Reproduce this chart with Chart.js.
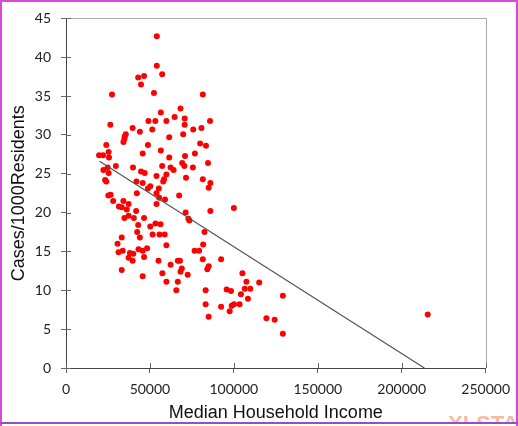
<!DOCTYPE html>
<html>
<head>
<meta charset="utf-8">
<script src="https://cdn.jsdelivr.net/npm/chart.js@4.4.1/dist/chart.umd.min.js"></script>
<style>
  html, body { margin: 0; padding: 0; background: #fff; }
  #wrap { position: relative; width: 518px; height: 426px; overflow: hidden; background: #fff; }
  #myScatterChart { position: absolute; left: 0; top: 0; }
  .edge { position: absolute; background: #d94ad9; }
  #mark { position: absolute; left: 448px; top: 413px; height: 10px; overflow: hidden;
          font: bold 22px "Liberation Sans", Arial, sans-serif; line-height: 22px; color: #f8b9a2; white-space: nowrap; }
</style>
</head>
<body>
<div id="wrap">
  <canvas id="myScatterChart" width="518" height="426"></canvas>
  <div id="mark">XLSTAT</div>
  <div class="edge" style="left:0;top:0;width:518px;height:2px;"></div>
  <div class="edge" style="left:0;top:0;width:2px;height:426px;"></div>
  <div class="edge" style="left:516px;top:0;width:2px;height:426px;"></div>
  <div class="edge" style="left:0;top:422px;width:518px;height:2px;background:#9a4cc6;"></div>
</div>
<script>
// median household income (x) and cases per 1000 residents (y)
var income = [
    54100, 54100, 43000, 46500, 57300, 44700, 52400, 27400, 81500, 68200,
    56500, 64700, 70700, 49100, 53200, 59800, 85800, 26400, 39700, 70700,
    51400, 44000, 75800, 80700, 35600, 35000, 61500, 69800, 34200, 24000,
    48800, 79900, 83400, 56500, 19700, 22100, 25400, 45700, 70900, 76800,
    25600, 61500, 84600, 29700, 39900, 57300, 69200, 70500, 75600, 62300,
    64100, 22300, 24800, 44700, 46900, 25400, 53900, 59800, 58400, 57900,
    81500, 23300, 24000, 42000, 45700, 86000, 50200, 48800, 55300, 85000,
    42200, 53900, 25200, 26600, 55500, 59000, 67400, 28100, 34200, 53900,
    37300, 31500, 33200, 36200, 41800, 86000, 37300, 34800, 40400, 46500,
    71300, 72900, 43000, 50200, 53300, 56300, 42400, 51600, 55700, 58800,
    82500, 44000, 33200, 30700, 59800, 81700, 31300, 33800, 38100, 40100,
    37300, 39700, 43200, 45700, 48300, 46500, 76600, 79300, 55100, 66600,
    67900, 81500, 62300, 33200, 57400, 69000, 68200, 85000, 84200, 72500,
    45700, 59800, 66600, 65700, 83200, 83200, 85000, 92400, 105100, 107500,
    115100, 109800, 95700, 98300, 104200, 108400, 129200, 100100, 103400, 98700,
    92400, 97500, 119400, 124300, 129200, 100000, 71500, 215500, 34800, 73500,
    106500
];
var rate = [
    42.7, 38.9, 37.4, 37.6, 37.8, 36.5, 35.4, 35.2, 35.2, 33.4,
    32.9, 32.3, 32.1, 31.8, 31.8, 31.8, 31.8, 31.3, 30.9, 31.3,
    30.7, 30.4, 30.7, 30.9, 30.1, 29.8, 29.7, 30.1, 29.1, 28.7,
    28.7, 28.9, 28.6, 28.0, 27.4, 27.4, 27.8, 27.6, 27.3, 27.6,
    27.1, 27.1, 26.4, 26.0, 25.8, 26.0, 26.4, 26.0, 25.8, 25.8,
    25.5, 25.5, 25.8, 25.3, 25.1, 25.1, 24.7, 24.9, 24.3, 24.0,
    24.3, 24.2, 24.0, 24.0, 23.8, 23.8, 23.4, 23.1, 23.1, 23.2,
    22.5, 22.5, 22.2, 22.3, 21.9, 21.7, 22.2, 21.5, 21.5, 21.1,
    21.1, 20.8, 20.7, 20.4, 20.2, 20.2, 19.6, 19.3, 19.3, 19.3,
    20.0, 19.2, 18.4, 18.2, 18.6, 18.5, 17.5, 17.2, 17.2, 17.2,
    17.5, 16.8, 16.8, 16.0, 15.8, 15.9, 14.9, 15.1, 14.8, 14.7,
    14.2, 13.8, 15.3, 15.1, 15.4, 14.3, 15.1, 15.1, 13.8, 13.8,
    13.8, 14.0, 13.3, 12.6, 12.2, 12.8, 12.4, 13.1, 12.7, 12.0,
    11.8, 11.1, 11.1, 10.0, 10.0, 8.2, 6.6, 14.0, 12.2, 11.1,
    11.0, 10.2, 10.1, 9.9, 9.5, 8.9, 9.3, 8.2, 8.2, 8.0,
    7.9, 7.3, 6.4, 6.2, 4.4, 20.6, 24.5, 6.9, 29.5, 19.0,
    10.2
];
// fitted trend line as drawn in the picture (end points)
var trendX = [20000, 213500];
var trendY = [26.6, 0];

var xTicks = [0, 50000, 100000, 150000, 200000, 250000];
var yTicks = [0, 5, 10, 15, 20, 25, 30, 35, 40, 45];

document.addEventListener('DOMContentLoaded', function () {
    var points = income.map(function (v, i) { return { x: v, y: rate[i] }; });
    var trend = trendX.map(function (v, i) { return { x: v, y: trendY[i] }; });

    // top/right frame and the inner half of the tick marks
    var frameLines = {
        id: 'frameLines',
        beforeDatasetsDraw: function (chart) {
            var ctx = chart.ctx, a = chart.chartArea;
            var xs = chart.scales.x, ys = chart.scales.y;
            ctx.save();
            ctx.lineWidth = 1;
            ctx.strokeStyle = '#aaaaaa';
            ctx.beginPath();
            ctx.moveTo(a.left, Math.round(a.top) + 0.5);
            ctx.lineTo(Math.round(a.right) + 0.5, Math.round(a.top) + 0.5);
            ctx.lineTo(Math.round(a.right) + 0.5, a.bottom);
            ctx.stroke();
            ctx.strokeStyle = '#666666';
            ctx.beginPath();
            yTicks.forEach(function (t) {
                var py = Math.round(ys.getPixelForValue(t)) + 0.5;
                ctx.moveTo(a.left, py);
                ctx.lineTo(a.left + 5, py);
            });
            xTicks.forEach(function (t) {
                var px = Math.round(xs.getPixelForValue(t)) + 0.5;
                ctx.moveTo(px, a.bottom);
                ctx.lineTo(px, a.bottom - 5);
            });
            ctx.stroke();
            ctx.restore();
        }
    };

    var ctx = document.getElementById('myScatterChart').getContext('2d');
    new Chart(ctx, {
        type: 'scatter',
        data: {
            datasets: [{
                type: 'line',
                label: 'Trend',
                data: trend,
                showLine: true,
                borderColor: '#555555',
                borderWidth: 1.2,
                pointRadius: 0,
                fill: false
            }, {
                label: 'Cases',
                data: points,
                backgroundColor: '#ff0000',
                borderWidth: 0,
                pointRadius: 3
            }]
        },
        options: {
            responsive: false,
            animation: false,
            layout: { padding: { left: 0, top: 13, right: 25, bottom: 0 } },
            plugins: {
                legend: { display: false },
                tooltip: { enabled: false }
            },
            scales: {
                x: {
                    type: 'linear',
                    position: 'bottom',
                    min: 0,
                    max: 250000,
                    afterBuildTicks: function (s) { s.ticks = xTicks.map(function (v) { return { value: v }; }); },
                    afterFit: function (s) { s.height = 58; },
                    ticks: {
                        color: '#222',
                        padding: 8,
                        maxRotation: 0,
                        font: { family: 'Lato', size: 14 },
                        callback: function (v) { return String(v); }
                    },
                    grid: { display: true, drawOnChartArea: false, drawTicks: true, tickLength: 5, color: '#666' },
                    border: { color: '#444', width: 1 },
                    title: {
                        display: true,
                        text: 'Median Household Income',
                        color: '#111',
                        font: { family: 'Liberation Sans', size: 18 },
                        padding: { top: 0, bottom: 2 }
                    }
                },
                y: {
                    min: 0,
                    max: 45,
                    afterBuildTicks: function (s) { s.ticks = yTicks.map(function (v) { return { value: v }; }); },
                    afterFit: function (s) { s.width = 66; },
                    ticks: {
                        color: '#222',
                        padding: 10,
                        font: { family: 'Lato', size: 14 },
                        callback: function (v) { return String(v); }
                    },
                    grid: { display: true, drawOnChartArea: false, drawTicks: true, tickLength: 5, color: '#666' },
                    border: { color: '#444', width: 1 },
                    title: {
                        display: true,
                        text: 'Cases/1000Residents',
                        color: '#111',
                        font: { family: 'Liberation Sans', size: 18 },
                        padding: { top: 8, bottom: 0 }
                    }
                }
            }
        },
        plugins: [frameLines]
    });
});
</script>
</body>
</html>
